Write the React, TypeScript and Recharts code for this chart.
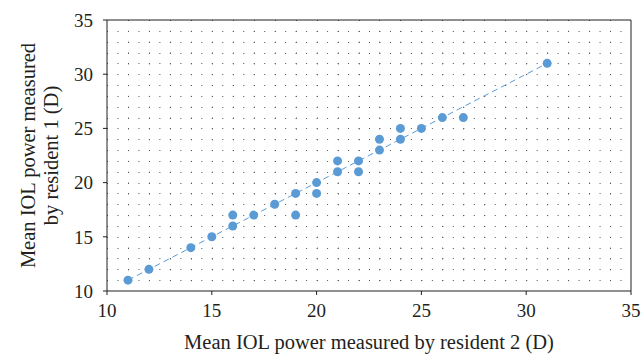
import React from 'react';
import {
    ScatterChart,
    Scatter,
    XAxis,
    YAxis,
    CartesianGrid,
    ReferenceLine
} from 'recharts';

// resident 2 (x) vs resident 1 (y), mean IOL power in D
const resident2 = [11, 12, 14, 15, 16, 16, 17, 18, 19, 19, 20, 20, 21, 21, 22, 22, 23, 23, 24, 24, 25, 26, 27, 31];
const resident1 = [11, 12, 14, 15, 16, 17, 17, 18, 19, 17, 20, 19, 22, 21, 22, 21, 23, 24, 24, 25, 25, 26, 26, 31];

const trendX = [11, 31];
const trendY = [11, 31];

const axisTicks = [10, 15, 20, 25, 30, 35];
const gridValues = [11, 12, 13, 14, 15, 16, 17, 18, 19, 20, 21, 22, 23, 24, 25, 26, 27, 28, 29, 30, 31, 32, 33, 34];
const DOMAIN: [number, number] = [10, 35];

const points = resident2.map((x, i) => ({ x, y: resident1[i] }));
const trend = trendX.map((x, i) => ({ x, y: trendY[i] }));

const FONT = '"Liberation Serif", "Times New Roman", serif';
const BLUE = '#5b9bd5';
const INK = '#231f20';

const span = DOMAIN[1] - DOMAIN[0];

// grid every 1 D, snapped to whole pixels so the dots stay crisp
// eslint-disable-next-line @typescript-eslint/no-explicit-any
const verticalGen = ({ offset }: any) =>
    gridValues.map(v => Math.round(offset.left + ((v - DOMAIN[0]) / span) * offset.width) + 0.5);
// eslint-disable-next-line @typescript-eslint/no-explicit-any
const horizontalGen = ({ offset }: any) =>
    gridValues.map(v => Math.round(offset.top + offset.height - ((v - DOMAIN[0]) / span) * offset.height) + 0.5);

// two-line rotated y axis title
// eslint-disable-next-line @typescript-eslint/no-explicit-any
const YTitle = (props: any) => {
    const { viewBox } = props;
    const cy = viewBox ? viewBox.y + viewBox.height / 2 : 155;
    return (
        <g>
            <text x={28} y={cy} transform={`rotate(-90, 28, ${cy})`} textAnchor="middle" dominantBaseline="central"
                fontFamily={FONT} fontSize={20.5} fill={INK}>Mean IOL power measured</text>
            <text x={51} y={cy} transform={`rotate(-90, 51, ${cy})`} textAnchor="middle" dominantBaseline="central"
                fontFamily={FONT} fontSize={20.5} fill={INK}>by resident 1 (D)</text>
        </g>
    );
};

// eslint-disable-next-line @typescript-eslint/no-explicit-any
const XTitle = (props: any) => {
    const { viewBox } = props;
    const cx = viewBox ? viewBox.x + viewBox.width / 2 : 369;
    return (
        <text x={cx} y={349} textAnchor="middle" fontFamily={FONT} fontSize={20.5} fill={INK}>
            Mean IOL power measured by resident 2 (D)
        </text>
    );
};

export default function App() {
    return (
        <div style={{ position: 'absolute', left: 0, top: 0, width: 641, height: 355, background: '#fff' }}>
            <ScatterChart width={641} height={355} margin={{ top: 20, right: 10, bottom: 0, left: 0 }}>
                <CartesianGrid
                    stroke="#555"
                    strokeDasharray="1 9.48"
                    vertical={false}
                    horizontalCoordinatesGenerator={horizontalGen}
                />
                <CartesianGrid
                    stroke="#555"
                    strokeDasharray="1 9.84"
                    horizontal={false}
                    verticalCoordinatesGenerator={verticalGen}
                />
                <XAxis
                    type="number"
                    dataKey="x"
                    domain={DOMAIN}
                    ticks={axisTicks}
                    height={64}
                    tickSize={4}
                    tickMargin={9}
                    axisLine={{ stroke: INK }}
                    tickLine={{ stroke: INK }}
                    tick={{ fill: INK, fontFamily: FONT, fontSize: 19 }}
                    label={<XTitle />}
                />
                <YAxis
                    type="number"
                    dataKey="y"
                    domain={DOMAIN}
                    ticks={axisTicks}
                    width={107}
                    tickSize={4}
                    tickMargin={10}
                    axisLine={{ stroke: INK }}
                    tickLine={{ stroke: INK }}
                    tick={{ fill: INK, fontFamily: FONT, fontSize: 19 }}
                    label={<YTitle />}
                />
                <ReferenceLine y={35} stroke={INK} />
                <ReferenceLine x={35} stroke={INK} />
                <Scatter
                    data={trend}
                    line={{ stroke: BLUE, strokeWidth: 1, strokeDasharray: '6 4' }}
                    shape={() => null}
                    isAnimationActive={false}
                />
                <Scatter data={points} fill={BLUE} isAnimationActive={false}
                    // eslint-disable-next-line @typescript-eslint/no-explicit-any
                    shape={(p: any) => <circle cx={p.cx} cy={p.cy} r={4.5} fill={BLUE} />} />
            </ScatterChart>
        </div>
    );
}
